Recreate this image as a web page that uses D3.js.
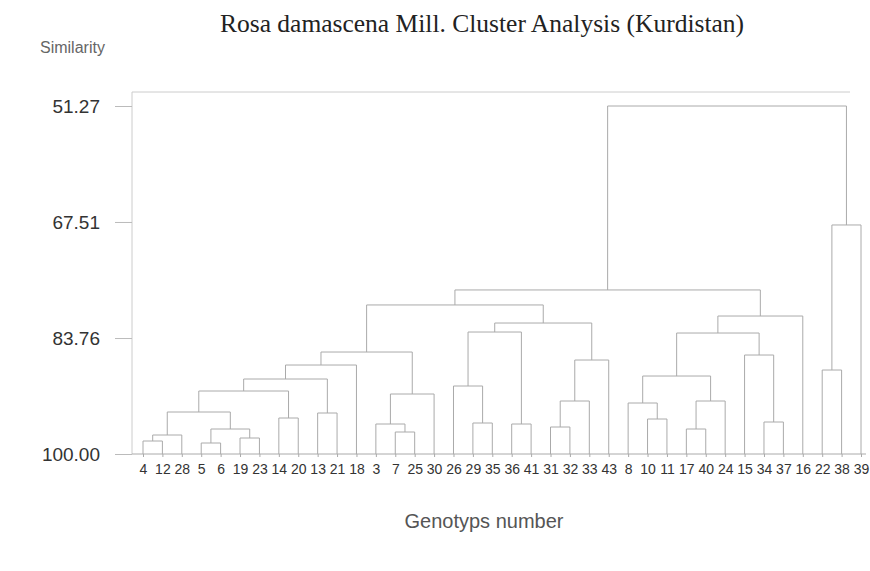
<!DOCTYPE html>
<html>
<head>
<meta charset="utf-8">
<script src="https://cdn.jsdelivr.net/npm/d3@7"></script>
<style>
  body { margin: 0; background: #fff; }
</style>
</head>
<body>
<div id="chart"></div>
<script>
var svgWidth = 870;
var svgHeight = 571;

// leaf order along the bottom
var leafOrder = [4, 12, 28, 5, 6, 19, 23, 14, 20, 13, 21, 18, 3, 7, 25, 30, 26, 29, 35,
  36, 41, 31, 32, 33, 43, 8, 10, 11, 17, 40, 24, 15, 34, 37, 16, 22, 38, 39];

// merges: [left, right, similarity]; "gN" = genotype N, "mK" = merge K
var merges = [
  ["g4", "g12", 98.18],
  ["m0", "g28", 97.34],
  ["g5", "g6", 98.46],
  ["g19", "g23", 97.76],
  ["m2", "m3", 96.50],
  ["m1", "m4", 94.12],
  ["g14", "g20", 94.96],
  ["m5", "m6", 91.18],
  ["g13", "g21", 94.26],
  ["m7", "m8", 89.50],
  ["m9", "g18", 87.54],
  ["g7", "g25", 96.92],
  ["g3", "m11", 95.80],
  ["m12", "g30", 91.60],
  ["m10", "m13", 85.72],
  ["g29", "g35", 95.66],
  ["g26", "m15", 90.48],
  ["g36", "g41", 95.80],
  ["m16", "m17", 82.92],
  ["g31", "g32", 96.22],
  ["m19", "g33", 92.58],
  ["m20", "g43", 86.84],
  ["m18", "m21", 81.66],
  ["m14", "m22", 79.13],
  ["g10", "g11", 95.10],
  ["g8", "m24", 92.86],
  ["g17", "g40", 96.50],
  ["m26", "g24", 92.58],
  ["m25", "m27", 89.08],
  ["g34", "g37", 95.52],
  ["g15", "m29", 86.14],
  ["m28", "m30", 83.06],
  ["m31", "g16", 80.68],
  ["m23", "m32", 77.03],
  ["g22", "g38", 88.24],
  ["m34", "g39", 67.93],
  ["m33", "m35", 51.27]
];

var yTicks = [51.27, 67.51, 83.76, 100.00];

var frame = { left: 132, top: 92, right: 850, bottom: 454 };

var svg = d3.select("#chart")
  .append("svg")
  .attr("width", svgWidth)
  .attr("height", svgHeight)
  .style("font-family", "'Liberation Sans', Arial, sans-serif");

var x = d3.scalePoint()
  .domain(leafOrder)
  .range([143, 861]);

var y = d3.scaleLinear()
  .domain([51.27, 100])
  .range([106, 454]);

// title + axis titles
svg.append("text")
  .attr("x", 482)
  .attr("y", 32)
  .attr("text-anchor", "middle")
  .style("font-family", "'Liberation Serif', 'Times New Roman', serif")
  .style("font-size", "25.5px")
  .attr("fill", "#222")
  .text("Rosa damascena Mill. Cluster Analysis (Kurdistan)");

svg.append("text")
  .attr("x", 40)
  .attr("y", 53)
  .style("font-size", "16px")
  .attr("fill", "#666")
  .text("Similarity");

svg.append("text")
  .attr("x", 484)
  .attr("y", 528)
  .attr("text-anchor", "middle")
  .style("font-size", "20px")
  .attr("fill", "#555")
  .text("Genotyps number");

// frame lines
var lineColor = "#aaa";
svg.append("line")
  .attr("x1", frame.left).attr("x2", frame.right)
  .attr("y1", frame.top).attr("y2", frame.top)
  .attr("stroke", "#ccc");
svg.append("line")
  .attr("x1", frame.left).attr("x2", frame.left)
  .attr("y1", frame.top).attr("y2", frame.bottom)
  .attr("stroke", "#ccc");
svg.append("line")
  .attr("x1", frame.left).attr("x2", 866)
  .attr("y1", frame.bottom).attr("y2", frame.bottom)
  .attr("stroke", lineColor);

// y axis
var leftAxis = d3.axisLeft(y)
  .tickValues(yTicks)
  .tickSize(17)
  .tickPadding(15)
  .tickFormat(d3.format(".2f"));

var yAxis = svg.append("g")
  .attr("transform", `translate(${frame.left}, 0)`)
  .call(leftAxis);
yAxis.select(".domain").remove();
yAxis.selectAll("line").attr("stroke", "#bbb");
yAxis.selectAll("text")
  .style("font-size", "19px")
  .style("font-family", "'Liberation Sans', Arial, sans-serif")
  .attr("fill", "#333");

// x axis (leaf labels)
var bottomAxis = d3.axisBottom(x)
  .tickSize(3)
  .tickPadding(7);

var xAxis = svg.append("g")
  .attr("transform", `translate(0, ${frame.bottom})`)
  .call(bottomAxis);
xAxis.select(".domain").remove();
xAxis.selectAll("line").attr("stroke", lineColor);
xAxis.selectAll("text")
  .style("font-size", "14px")
  .style("font-family", "'Liberation Sans', Arial, sans-serif")
  .attr("fill", "#333");

// compute node positions
var nodes = {};
leafOrder.forEach(function(g) {
  nodes["g" + g] = { x: x(g), y: y(100) };
});
merges.forEach(function(m, i) {
  var a = nodes[m[0]], b = nodes[m[1]];
  nodes["m" + i] = { x: (a.x + b.x) / 2, y: y(m[2]), left: a, right: b };
});

// dendrogram links
var links = svg.append("g")
  .attr("fill", "none")
  .attr("stroke", lineColor)
  .attr("stroke-width", 1);

merges.forEach(function(m, i) {
  var n = nodes["m" + i];
  links.append("path")
    .attr("d", `M${n.left.x},${n.left.y}V${n.y}H${n.right.x}V${n.right.y}`);
});
</script>
</body>
</html>
